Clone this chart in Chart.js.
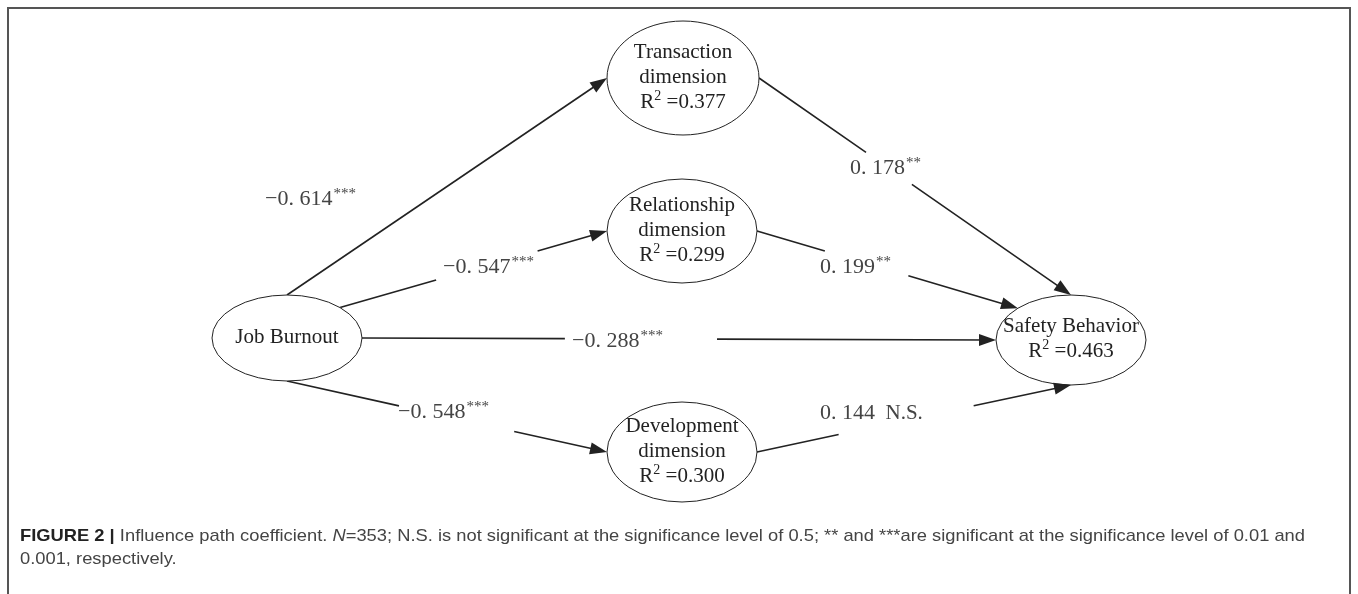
<!DOCTYPE html>
<html>
<head>
<meta charset="utf-8">
<script src="https://cdn.jsdelivr.net/npm/chart.js@4"></script>
<style>
  html, body { margin: 0; padding: 0; background: #fff; }
  canvas { display: block; }
</style>
</head>
<body>
<canvas id="pathChart" width="1358" height="594"></canvas>
<script>
// model data
const nodeLabels = ['Job Burnout', 'Transaction dimension', 'Relationship dimension', 'Development dimension', 'Safety Behavior'];
const nodeR2 = [null, 0.377, 0.299, 0.300, 0.463];
const pathFrom = [0, 0, 0, 0, 1, 2, 3];
const pathTo = [1, 2, 4, 3, 4, 4, 4];
const pathCoef = [-0.614, -0.547, -0.288, -0.548, 0.178, 0.199, 0.144];
const pathSig = ['***', '***', '***', '***', '**', '**', 'N.S.'];

// diagram layout (page units, 1 unit = 1px)
const layout = {
    nodeX: [287, 683, 682, 682, 1071],
    nodeY: [338, 78, 231, 452, 340],
    nodeRX: [75, 76, 75, 75, 75],
    nodeRY: [43, 57, 52, 50, 45],
    fromAngle: [-90, -45, 0, 90, 0, 0, 0],
    toAngle: [180, 180, 180, 180, -90, -135, 90],
    gap: [null, [0.36, 0.74], [0.32, 0.56], [0.35, 0.71], [0.343, 0.49], [0.26, 0.58], [0.26, 0.69]],
    labelAt: [[265, 199], [443, 267], [572, 341], [398, 412], [850, 168], [820, 267], [820, 413]]
};

const serif = '"Liberation Serif", "DejaVu Serif", serif';
const ink = '#222';

function anchor(i, deg) {
    const a = deg * Math.PI / 180;
    return {
        x: layout.nodeX[i] + layout.nodeRX[i] * Math.cos(a),
        y: layout.nodeY[i] + layout.nodeRY[i] * Math.sin(a)
    };
}

function lerp(a, b, t) {
    return { x: a.x + (b.x - a.x) * t, y: a.y + (b.y - a.y) * t };
}

function coefText(c) {
    return (c < 0 ? '\u2212' : '') + '0. ' + Math.abs(c).toFixed(3).slice(2);
}

const ends = pathFrom.map((f, k) => [anchor(f, layout.fromAngle[k]), anchor(pathTo[k], layout.toAngle[k])]);

const datasets = ends.map(([p0, p1], k) => {
    const len = Math.hypot(p1.x - p0.x, p1.y - p0.y);
    const stop = lerp(p0, p1, 1 - 8 / len);
    const g = layout.gap[k];
    let pts;
    if (g) {
        const a = lerp(p0, p1, g[0]), b = lerp(p0, p1, g[1]);
        pts = [p0, a, { x: (a.x + b.x) / 2, y: null }, b, stop];
    } else {
        pts = [p0, stop];
    }
    return {
        label: nodeLabels[pathFrom[k]] + ' \u2192 ' + nodeLabels[pathTo[k]],
        data: pts,
        showLine: true,
        spanGaps: false,
        borderColor: ink,
        borderWidth: 1.6,
        pointRadius: 0
    };
});

const diagramPlugin = {
    id: 'diagram',
    afterDatasetsDraw(chart) {
        const c = chart.ctx;
        const xs = chart.scales.x, ys = chart.scales.y;
        c.save();

        // frame
        c.strokeStyle = '#555';
        c.lineWidth = 2;
        c.beginPath();
        c.moveTo(8, 594); c.lineTo(8, 8); c.lineTo(1350, 8); c.lineTo(1350, 594);
        c.stroke();

        // ellipses and node text
        nodeLabels.forEach((name, i) => {
            const cx = xs.getPixelForValue(layout.nodeX[i]);
            const cy = ys.getPixelForValue(layout.nodeY[i]);
            const rx = Math.abs(xs.getPixelForValue(layout.nodeX[i] + layout.nodeRX[i]) - cx);
            const ry = Math.abs(ys.getPixelForValue(layout.nodeY[i] + layout.nodeRY[i]) - cy);
            c.beginPath();
            c.ellipse(cx, cy, rx, ry, 0, 0, Math.PI * 2);
            c.fillStyle = '#fff';
            c.fill();
            c.strokeStyle = ink;
            c.lineWidth = 1;
            c.stroke();

            const lines = name.endsWith(' dimension') ? [name.replace(' dimension', ''), 'dimension'] : [name];
            const rows = lines.length + (nodeR2[i] !== null ? 1 : 0);
            let y = cy - 1 - (rows - 1) * 12.5;
            c.fillStyle = ink;
            c.textBaseline = 'middle';
            c.textAlign = 'center';
            c.font = '21px ' + serif;
            lines.forEach(t => { c.fillText(t, cx, y); y += 25; });
            if (nodeR2[i] !== null) {
                const a = 'R', sup = '2', b = ' =' + nodeR2[i].toFixed(3);
                c.font = '21px ' + serif;
                const wa = c.measureText(a).width, wb = c.measureText(b).width;
                c.font = '14px ' + serif;
                const ws = c.measureText(sup).width;
                let x = cx - (wa + ws + wb) / 2;
                c.textAlign = 'left';
                c.font = '21px ' + serif;
                c.fillText(a, x, y);
                c.font = '14px ' + serif;
                c.fillText(sup, x + wa, y - 6);
                c.font = '21px ' + serif;
                c.fillText(b, x + wa + ws, y);
            }
        });

        // arrowheads
        ends.forEach(([p0, p1]) => {
            const x0 = xs.getPixelForValue(p0.x), y0 = ys.getPixelForValue(p0.y);
            const x1 = xs.getPixelForValue(p1.x), y1 = ys.getPixelForValue(p1.y);
            const ang = Math.atan2(y1 - y0, x1 - x0);
            const L = 17, W = 6;
            c.beginPath();
            c.moveTo(x1, y1);
            c.lineTo(x1 - L * Math.cos(ang) + W * Math.sin(ang), y1 - L * Math.sin(ang) - W * Math.cos(ang));
            c.lineTo(x1 - L * Math.cos(ang) - W * Math.sin(ang), y1 - L * Math.sin(ang) + W * Math.cos(ang));
            c.closePath();
            c.fillStyle = ink;
            c.fill();
        });

        // path coefficients
        c.textAlign = 'left';
        c.textBaseline = 'middle';
        c.fillStyle = '#444';
        pathCoef.forEach((v, k) => {
            const x = xs.getPixelForValue(layout.labelAt[k][0]);
            const y = ys.getPixelForValue(layout.labelAt[k][1]);
            const main = coefText(v);
            c.font = '22px ' + serif;
            c.fillText(main, x, y);
            const w = c.measureText(main).width;
            if (pathSig[k] === 'N.S.') {
                c.font = '21px ' + serif;
                c.fillText('  N.S.', x + w, y);
            } else {
                c.font = '15px ' + serif;
                c.fillText(pathSig[k], x + w + 1, y - 5);
            }
        });

        // caption
        const parts = [
            ['FIGURE 2 | ', 'bold'],
            ['Influence path coefficient. ', ''],
            ['N', 'italic'],
            ['=353; N.S. is not significant at the significance level of 0.5; ** and ***are significant at the significance level of 0.01 and', '']
        ];
        const sans = '17px "Liberation Sans", Arial, sans-serif';
        let total = 0;
        parts.forEach(p => { c.font = (p[1] ? p[1] + ' ' : '') + sans; total += c.measureText(p[0]).width; });
        const k = 1285 / total;
        c.translate(20, 0);
        c.scale(k, 1);
        let x = 0;
        parts.forEach(p => {
            c.font = (p[1] ? p[1] + ' ' : '') + sans;
            c.fillStyle = p[1] === 'bold' ? '#222' : '#444';
            c.fillText(p[0], x, 536);
            x += c.measureText(p[0]).width;
        });
        c.font = sans;
        c.fillStyle = '#444';
        c.fillText('0.001, respectively.', 0, 559);
        c.restore();
    }
};

const ctx = document.getElementById('pathChart').getContext('2d');

const pathChart = new Chart(ctx, {
    type: 'scatter',
    data: { datasets: datasets },
    options: {
        responsive: false,
        animation: false,
        devicePixelRatio: 1,
        layout: { padding: 0 },
        scales: {
            x: { type: 'linear', min: 0, max: 1358, display: false },
            y: { type: 'linear', min: 0, max: 594, reverse: true, display: false }
        },
        plugins: {
            legend: { display: false },
            tooltip: { enabled: false }
        }
    },
    plugins: [diagramPlugin]
});
</script>
</body>
</html>
